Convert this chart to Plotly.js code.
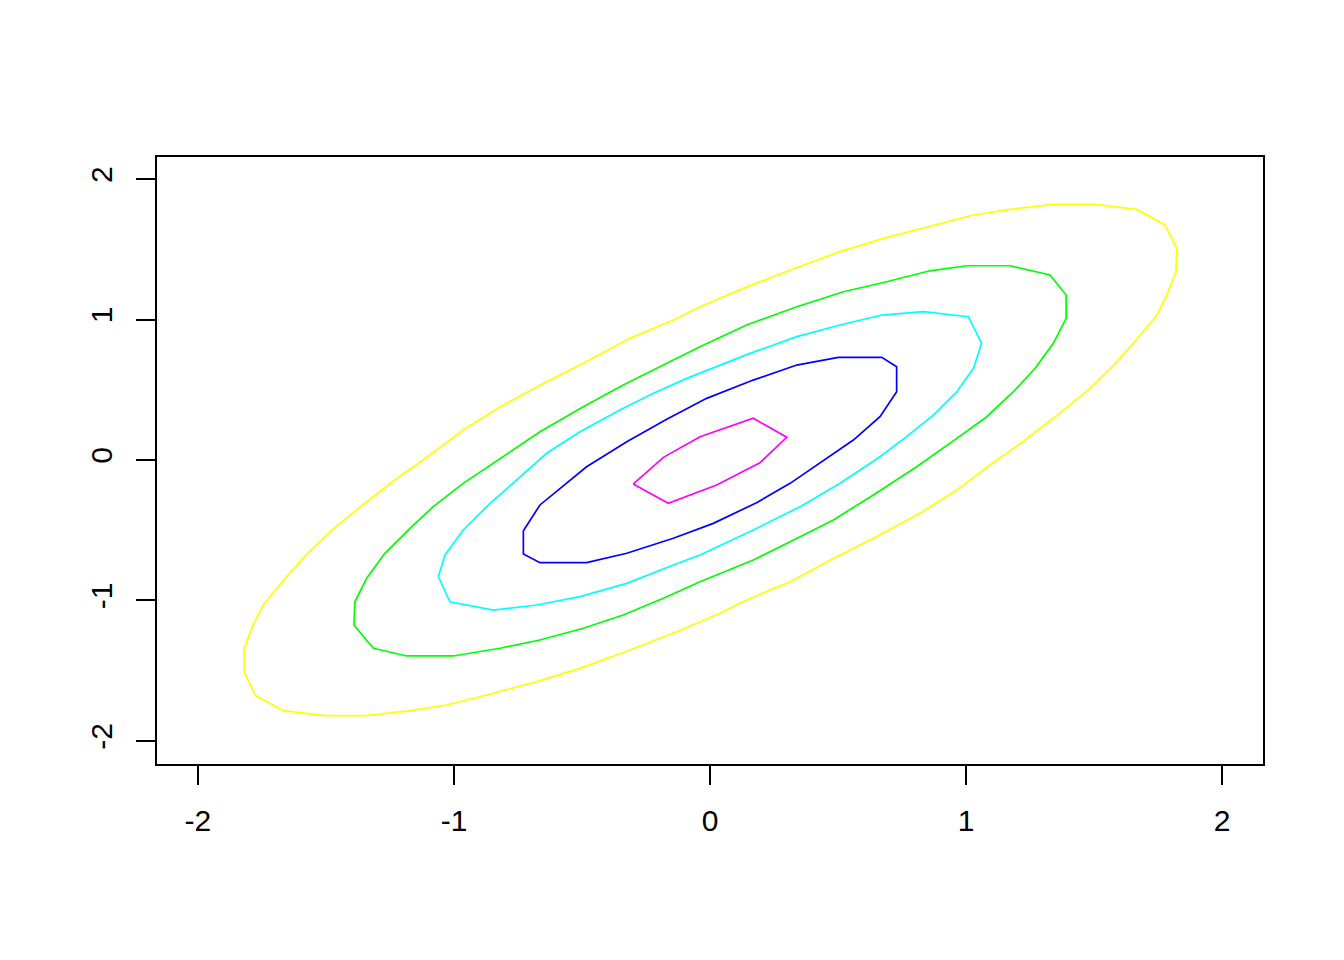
<!DOCTYPE html>
<html>
<head>
<meta charset="utf-8">
<script src="https://cdn.plot.ly/plotly-3.0.1.min.js"></script>
<style>html,body{margin:0;padding:0;background:#fff;}#chart{width:1344px;height:960px;}</style>
</head>
<body>
<div id="chart"></div>
<script>
// Contour polylines (data units)
const magentaX = [-0.300,-0.182,-0.039,0.169,0.300,0.195,0.026,-0.163];
const magentaY = [-0.171,0.019,0.166,0.297,0.162,-0.019,-0.178,-0.308];

const blueX = [-0.729,-0.729,-0.664,-0.482,-0.325,-0.143,0.013,0.182,0.313,0.430,0.560,0.664,0.729,0.729,0.671,0.501,0.339,0.169,-0.013,-0.169,-0.325,-0.482,-0.664];
const blueY = [-0.503,-0.669,-0.731,-0.731,-0.664,-0.557,-0.451,-0.304,-0.166,-0.023,0.142,0.308,0.486,0.664,0.731,0.731,0.676,0.569,0.439,0.290,0.130,-0.048,-0.320];

const cyanX = [-1.061,-1.035,-0.964,-0.859,-0.755,-0.638,-0.508,-0.352,-0.221,-0.091,0.156,0.339,0.508,0.671,0.833,1.009,1.061,1.029,0.964,0.872,0.768,0.664,0.508,0.352,0.169,-0.039,-0.143,-0.325,-0.508,-0.677,-0.846,-1.016];
const cyanY = [-0.831,-0.676,-0.498,-0.308,-0.142,0.048,0.201,0.356,0.475,0.581,0.759,0.878,0.961,1.032,1.056,1.020,0.831,0.653,0.486,0.320,0.166,0.023,-0.166,-0.332,-0.498,-0.676,-0.747,-0.878,-0.973,-1.032,-1.068,-1.009];

const greenX = [-1.391,-1.387,-1.341,-1.270,-1.172,-1.081,-0.964,-0.820,-0.664,-0.495,-0.339,-0.169,-0.039,0.143,0.339,0.521,0.690,0.859,1.003,1.172,1.328,1.391,1.391,1.341,1.270,1.185,1.081,0.964,0.807,0.638,0.482,0.352,0.169,-0.039,-0.182,-0.339,-0.495,-0.664,-0.820,-1.003,-1.185,-1.315];
const greenY = [-1.174,-1.009,-0.842,-0.664,-0.486,-0.332,-0.166,0.012,0.201,0.379,0.534,0.688,0.806,0.961,1.091,1.198,1.269,1.347,1.383,1.383,1.317,1.174,1.009,0.831,0.653,0.486,0.308,0.154,-0.048,-0.249,-0.427,-0.546,-0.712,-0.866,-0.984,-1.103,-1.198,-1.281,-1.340,-1.395,-1.395,-1.340];

const yellowX = [-1.820,-1.820,-1.784,-1.744,-1.673,-1.578,-1.483,-1.352,-1.222,-1.091,-0.964,-0.820,-0.638,-0.495,-0.313,-0.143,-0.039,0.130,0.313,0.508,0.677,0.872,1.029,1.172,1.341,1.504,1.667,1.777,1.823,
                 1.820,1.784,1.744,1.673,1.578,1.483,1.352,1.222,1.091,0.964,0.820,0.638,0.495,0.313,0.143,0.039,-0.130,-0.313,-0.508,-0.677,-0.872,-1.029,-1.172,-1.341,-1.504,-1.667,-1.777];
const yellowY = [-1.504,-1.341,-1.172,-1.029,-0.872,-0.677,-0.508,-0.313,-0.130,0.039,0.214,0.379,0.557,0.688,0.866,0.996,1.091,1.222,1.352,1.483,1.578,1.673,1.744,1.784,1.820,1.820,1.784,1.673,1.507,
                 1.341,1.172,1.029,0.872,0.677,0.508,0.313,0.130,-0.039,-0.214,-0.379,-0.557,-0.688,-0.866,-0.996,-1.091,-1.222,-1.352,-1.483,-1.578,-1.673,-1.744,-1.784,-1.820,-1.820,-1.784,-1.673];

const tickVals = [-2,-1,0,1,2];
const tickText = ["-2","-1","0","1","2"];

const series = [
  {x: yellowX, y: yellowY, color: "#FFFF00"},
  {x: greenX, y: greenY, color: "#00FF00"},
  {x: cyanX, y: cyanY, color: "#00FFFF"},
  {x: blueX, y: blueY, color: "#0000FF"},
  {x: magentaX, y: magentaY, color: "#FF00FF"}
];

const traces = series.map(s => ({
  type: "scatter",
  mode: "lines",
  x: s.x.concat([s.x[0]]),
  y: s.y.concat([s.y[0]]),
  line: {color: s.color, width: 1.7},
  hoverinfo: "skip",
  showlegend: false
}));

const axisCommon = {
  showgrid: false,
  zeroline: false,
  showline: true,
  mirror: true,
  linecolor: "#000",
  linewidth: 2,
  ticks: "outside",
  ticklen: 19,
  tickwidth: 2,
  tickcolor: "#000",
  tickmode: "array",
  tickvals: tickVals,
  ticktext: tickText,
  tickfont: {family: "Liberation Sans, Arial, sans-serif", size: 30, color: "#000"}
};

const layout = {
  width: 1344,
  height: 960,
  paper_bgcolor: "#fff",
  plot_bgcolor: "#fff",
  margin: {l: 157, r: 81, t: 157, b: 196, pad: 0},
  showlegend: false,
  xaxis: Object.assign({}, axisCommon, {range: [-2.16, 2.16], ticklabelstandoff: 10}),
  yaxis: Object.assign({}, axisCommon, {range: [-2.164, 2.157], tickangle: -90, ticklabelstandoff: 12})
};

Plotly.newPlot("chart", traces, layout, {displayModeBar: false, staticPlot: true});
</script>
</body>
</html>
